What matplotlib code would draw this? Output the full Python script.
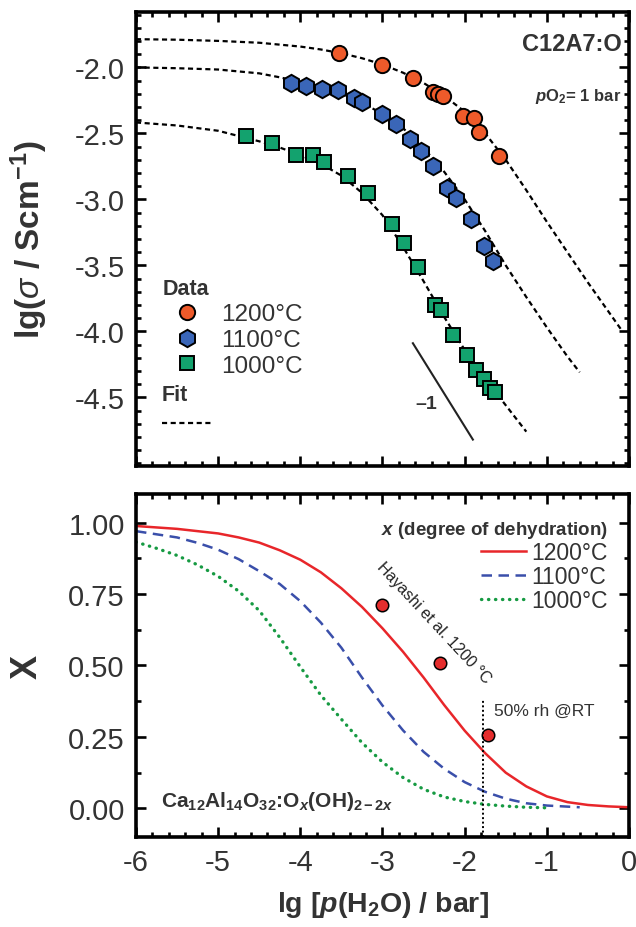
import numpy as np
import matplotlib.pyplot as plt
from matplotlib.lines import Line2D
from matplotlib.ticker import MultipleLocator

plt.rcParams['font.family'] = ['Liberation Sans', 'DejaVu Sans']
plt.rcParams['mathtext.fontset'] = 'custom'
plt.rcParams['mathtext.rm'] = 'Liberation Sans'
plt.rcParams['mathtext.it'] = 'Liberation Sans:italic'
plt.rcParams['mathtext.bf'] = 'Liberation Sans:bold'
plt.rcParams['mathtext.bfit'] = 'Liberation Sans:bold:italic'

# --- conductivity data (top) ---
x1200 = [-3.53, -3.00, -2.63, -2.38, -2.32, -2.26, -2.02, -1.89, -1.83, -1.58]
s1200 = [-1.89, -1.98, -2.08, -2.185, -2.20, -2.215, -2.37, -2.38, -2.49, -2.67]
x1100 = [-4.11, -3.93, -3.74, -3.54, -3.35, -3.25, -3.00, -2.84, -2.66, -2.53,
         -2.38, -2.21, -2.11, -1.92, -1.76, -1.66]
s1100 = [-2.12, -2.14, -2.16, -2.17, -2.23, -2.265, -2.35, -2.43, -2.54, -2.63,
         -2.745, -2.91, -2.99, -3.15, -3.35, -3.47]
x1000 = [-4.66, -4.35, -4.05, -3.84, -3.71, -3.42, -3.18, -2.89, -2.74, -2.57,
         -2.36, -2.29, -2.14, -1.97, -1.86, -1.77, -1.69, -1.63]
s1000 = [-2.52, -2.57, -2.66, -2.66, -2.72, -2.82, -2.95, -3.19, -3.33, -3.51,
         -3.80, -3.84, -4.03, -4.18, -4.29, -4.36, -4.43, -4.46]

# fits (top)
fx1200 = [-6.0, -5.5, -5.0, -4.5, -4.0, -3.75, -3.5, -3.25, -3.0, -2.75, -2.5,
          -2.25, -2.0, -1.75, -1.5, -1.25, -1.0, -0.75, -0.5, -0.25, -0.08]
fs1200 = [-1.786, -1.790, -1.799, -1.813, -1.842, -1.864, -1.893, -1.930, -1.978,
          -2.040, -2.118, -2.215, -2.335, -2.50, -2.70, -2.93, -3.17, -3.40,
          -3.63, -3.85, -4.00]
fx1100 = [-6.0, -5.5, -5.0, -4.5, -4.25, -4.0, -3.75, -3.5, -3.25, -3.0, -2.75,
          -2.5, -2.25, -2.0, -1.75, -1.5, -1.25, -1.0, -0.75, -0.6]
fs1100 = [-2.000, -2.006, -2.016, -2.045, -2.075, -2.11, -2.15, -2.20, -2.27,
          -2.35, -2.46, -2.61, -2.79, -3.00, -3.24, -3.50, -3.74, -3.97, -4.19,
          -4.31]
fx1000 = [-6.0, -5.5, -5.0, -4.75, -4.5, -4.25, -4.0, -3.75, -3.5, -3.25, -3.0,
          -2.75, -2.5, -2.25, -2.0, -1.75, -1.5, -1.25]
fs1000 = [-2.417, -2.44, -2.48, -2.52, -2.56, -2.607, -2.665, -2.73, -2.82, -2.95,
          -3.12, -3.36, -3.62, -3.89, -4.14, -4.36, -4.56, -4.76]

# slope -1 guide
gx = [-2.63, -1.90]
gy = [-4.09, -4.82]

# --- degree of dehydration (bottom) ---
lx1200 = [-6.0, -5.5, -5.0, -4.75, -4.5, -4.25, -4.0, -3.75, -3.5, -3.25, -3.0,
          -2.75, -2.5, -2.25, -2.0, -1.75, -1.5, -1.25, -1.0, -0.75, -0.5, -0.25, 0.0]
X1200 = [0.988, 0.978, 0.962, 0.948, 0.930, 0.903, 0.870, 0.826, 0.770, 0.705,
         0.630, 0.548, 0.458, 0.362, 0.272, 0.193, 0.125, 0.077, 0.042, 0.022,
         0.012, 0.007, 0.004]
lx1100 = [-6.0, -5.5, -5.25, -5.0, -4.75, -4.5, -4.25, -4.0, -3.75, -3.5, -3.25,
          -3.0, -2.75, -2.5, -2.25, -2.0, -1.75, -1.5, -1.25, -1.0, -0.6]
X1100 = [0.970, 0.948, 0.929, 0.905, 0.872, 0.830, 0.785, 0.725, 0.650, 0.562,
         0.458, 0.360, 0.273, 0.198, 0.139, 0.092, 0.058, 0.034, 0.018, 0.010, 0.004]
lx1000 = [-6.0, -5.75, -5.5, -5.25, -5.0, -4.75, -4.5, -4.25, -4.0, -3.75, -3.5,
          -3.25, -3.0, -2.75, -2.5, -2.25, -2.0, -1.75, -1.5, -1.25, -1.0]
X1000 = [0.932, 0.910, 0.885, 0.852, 0.812, 0.760, 0.692, 0.598, 0.495, 0.396,
         0.312, 0.230, 0.162, 0.108, 0.067, 0.040, 0.024, 0.014, 0.008, 0.004, 0.002]
hay_x = [-3.00, -2.30, -1.71]
hay_X = [0.711, 0.509, 0.257]
rh50 = -1.78

temps = ['1200°C', '1100°C', '1000°C']
txt = '#333333'

fig = plt.figure(figsize=(6.36, 9.28), dpi=100)
ax1 = fig.add_axes([0.2138, 0.4968, 0.7752, 0.4892])
ax2 = fig.add_axes([0.2138, 0.0970, 0.7752, 0.3696])

for ax in (ax1, ax2):
    for sp in ax.spines.values():
        sp.set_linewidth(2.6)
    ax.tick_params(which='both', direction='in', top=True, right=True,
                   width=1.9, labelsize=21, labelcolor=txt)
    ax.tick_params(which='major', length=7.5)
    ax.tick_params(which='minor', length=3.8)
    ax.set_xlim(-6, 0)
    ax.xaxis.set_major_locator(MultipleLocator(1))
    ax.xaxis.set_minor_locator(MultipleLocator(0.2))

# top panel
fitstyle = dict(color='black', lw=1.6, ls=(0, (2.3, 1.6)))
ax1.plot(fx1200, fs1200, **fitstyle)
ax1.plot(fx1100, fs1100, **fitstyle)
ax1.plot(fx1000, fs1000, **fitstyle)
ax1.plot(gx, gy, color='#222222', lw=1.5)
h1, = ax1.plot(x1200, s1200, 'o', ms=11, mfc='#EE5A2A', mec='black', mew=1.4, ls='none')
h2, = ax1.plot(x1100, s1100, 'h', ms=12.5, mfc='#3A66B8', mec='black', mew=1.4, ls='none')
h3, = ax1.plot(x1000, s1000, 's', ms=9.5, mfc='#13A26E', mec='black', mew=1.4, ls='none')
ax1.set_ylim(-5.02, -1.58)
ax1.yaxis.set_minor_locator(MultipleLocator(0.1))
ax1.set_yticks([-2.0, -2.5, -3.0, -3.5, -4.0, -4.5])
ax1.set_yticklabels(['-2.0', '-2.5', '-3.0', '-3.5', '-4.0', '-4.5'])
ax1.tick_params(axis='x', labelbottom=False)
ax1.tick_params(axis='y', pad=8)
ax1.set_ylabel(r'lg($\mathit{\sigma}$ / Scm$^{\mathbf{-1}}$)', fontsize=24,
               fontweight='bold', color=txt)
ax1.yaxis.set_label_coords(-0.175, 0.5)
ax1.text(0.985, 0.93, 'C12A7:O', transform=ax1.transAxes, ha='right', va='center',
         fontsize=17, fontweight='bold', color=txt)
ax1.text(0.985, 0.815, r'$\mathbfit{p}\mathbf{O}_\mathbf{2}$= 1 bar', transform=ax1.transAxes,
         ha='right', va='center', fontsize=12, fontweight='bold', color=txt)
ax1.text(-2.47, -4.55, '\u20131', ha='center', va='center', fontsize=14,
         fontweight='bold', color=txt)

leg1 = ax1.legend([h1, h2, h3], temps, title='Data', loc='upper left',
                  bbox_to_anchor=(0.035, 0.435), frameon=False, fontsize=17.5,
                  alignment='left', handletextpad=0.4, labelspacing=0.16,
                  borderaxespad=0, labelcolor=txt,
                  title_fontproperties={'weight': 'bold', 'size': 15.5})
leg1.get_title().set_color(txt)
ax1.add_artist(leg1)
fit_h = Line2D([], [], **fitstyle)
leg2 = ax1.legend([fit_h], [''], title='Fit', loc='upper left',
                  bbox_to_anchor=(0.035, 0.20), frameon=False, fontsize=15,
                  alignment='left', handlelength=2.5, borderaxespad=0,
                  handletextpad=0, title_fontproperties={'weight': 'bold', 'size': 15.5})
leg2.get_title().set_color(txt)

# bottom panel
l1, = ax2.plot(lx1200, X1200, color='#E8262A', lw=1.8)
l2, = ax2.plot(lx1100, X1100, color='#3A4FAA', lw=1.8, ls=(0, (4.2, 2.6)))
l3, = ax2.plot(lx1000, X1000, color='#169A42', lw=2.4, ls=(0, (0.1, 2.0)),
               dash_capstyle='round')
ax2.plot(hay_x, hay_X, 'o', ms=9, mfc='#E52D2D', mec='black', mew=1.1, ls='none')
ax2.plot([rh50, rh50], [-0.1, 0.378], color='black', lw=1.4, ls=(0, (1, 1.3)))
ax2.set_ylim(-0.1, 1.1)
ax2.yaxis.set_major_locator(MultipleLocator(0.25))
ax2.yaxis.set_minor_locator(MultipleLocator(0.125))
ax2.yaxis.set_major_formatter(lambda v, p: f'{v:.2f}')
ax2.xaxis.set_major_formatter(lambda v, p: f'{v:.0f}'.replace('\u2212', '-'))
ax2.tick_params(axis='y', pad=8)
ax2.tick_params(axis='x', pad=8)
ax2.set_ylabel('X', fontsize=26, fontweight='bold', color=txt)
ax2.yaxis.set_label_coords(-0.185, 0.5)
ax2.set_xlabel(r'lg [$\mathbfit{p}$(H$_\mathbf{2}$O) / bar]', fontsize=20.5,
               fontweight='bold', color=txt, labelpad=9)
ax2.legend([l1, l2, l3], temps, title=r'$\mathbfit{x}$ (degree of dehydration)',
           loc='upper right', bbox_to_anchor=(0.975, 0.955), frameon=False,
           fontsize=16.5, alignment='right', handlelength=2.0, handletextpad=0.2,
           labelspacing=0.05, borderaxespad=0, labelcolor=txt,
           title_fontproperties={'weight': 'bold', 'size': 13.5})
ax2.get_legend().get_title().set_color(txt)
ax2.text(-2.38, 0.65, 'Hayashi et al. 1200 \u00b0C', rotation=-47, ha='center',
         va='center', fontsize=11.5, color='#222222', rotation_mode='anchor')
ax2.text(-1.64, 0.344, '50% rh @RT', ha='left', va='center', fontsize=12.5, color=txt)
ax2.text(0.05, 0.09,
         r'Ca$_{\mathbf{12}}$Al$_{\mathbf{14}}$O$_{\mathbf{32}}$:O$_{\mathbfit{x}}$(OH)$_{\mathbf{2-2}\mathbfit{x}}$',
         transform=ax2.transAxes, ha='left', va='baseline', fontsize=15,
         fontweight='bold', color=txt)

fig.savefig('out.png', dpi=100)
